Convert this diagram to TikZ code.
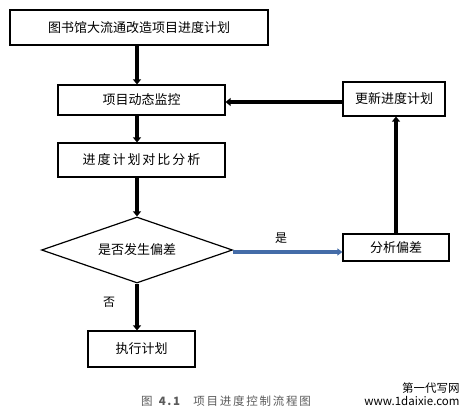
\documentclass[tikz,border=0pt]{standalone}
\usepackage{fontspec}
\newfontfamily\cjk{Noto Sans CJK SC}
\newfontfamily\cjkcap[LetterSpace=15]{Noto Sans CJK SC}
\usetikzlibrary{arrows.meta,shapes.geometric}
\definecolor{flowblue}{RGB}{68,108,168}
\definecolor{capgray}{RGB}{90,90,90}
\begin{document}
\begin{tikzpicture}[x=1pt,y=-1pt,
  box/.style={draw,line width=1.2pt,rectangle,inner sep=0pt,font=\cjk\fontsize{13}{15}\selectfont},
  flow/.style={line width=3.5pt,-{Triangle[length=5pt,width=8pt]}},
  lbl/.style={font=\cjk\fontsize{12}{14}\selectfont}]
\useasboundingbox (0,0) rectangle (465,417);
\node[box,minimum width=258pt,minimum height=35pt] (plan) at (139,27.5) {图书馆大流通改造项目进度计划};
\node[box,minimum width=167pt,minimum height=30pt] (mon) at (141.5,100) {项目动态监控};
\node[box,minimum width=167pt,minimum height=34pt,font=\cjkcap\fontsize{13}{15}\selectfont] (cmp) at (141.5,160) {进度计划对比分析};
\node[draw,line width=1.2pt,diamond,aspect=2.9,inner sep=0pt,minimum width=191pt,minimum height=66pt,font=\cjk\fontsize{13}{15}\selectfont] (dev) at (137,250) {是否发生偏差};
\node[box,minimum width=107pt,minimum height=36pt] (exe) at (141.5,349) {执行计划};
\node[box,minimum width=102pt,minimum height=34pt] (upd) at (394,99) {更新进度计划};
\node[box,minimum width=106pt,minimum height=27pt] (ana) at (396,247.5) {分析偏差};
\draw[flow] (plan.south -| 137,0) -- (mon.north -| 137,0);
\draw[flow] (mon.south -| 137,0) -- (cmp.north -| 137,0);
\draw[flow] (cmp.south -| 137,0) -- (dev.north);
\draw[flow] (dev.south) -- (exe.north -| 137,0);
\draw[flow] (upd.west |- 0,102) -- (mon.east |- 0,102);
\draw[flow] (ana.north -| 396,0) -- (upd.south -| 396,0);
\draw[line width=3.5pt,flowblue,-{Triangle[length=5pt,width=7pt]}] (dev.east |- 0,252) -- (ana.west |- 0,252);
\node[lbl] (yes) at (281,238) {是};
\node[lbl] (no) at (109,302) {否};
\node[font=\cjkcap\fontsize{11.5}{13}\selectfont,text=capgray] (cap) at (226,401) {图 \textbf{4.1}\quad 项目进度控制流程图};
\node[font=\cjk\fontsize{11.5}{12.5}\selectfont,align=right,inner sep=0pt] (wm) at (412,394) {\hfill 第一代写网\\www.1daixie.com};
\end{tikzpicture}
\end{document}
